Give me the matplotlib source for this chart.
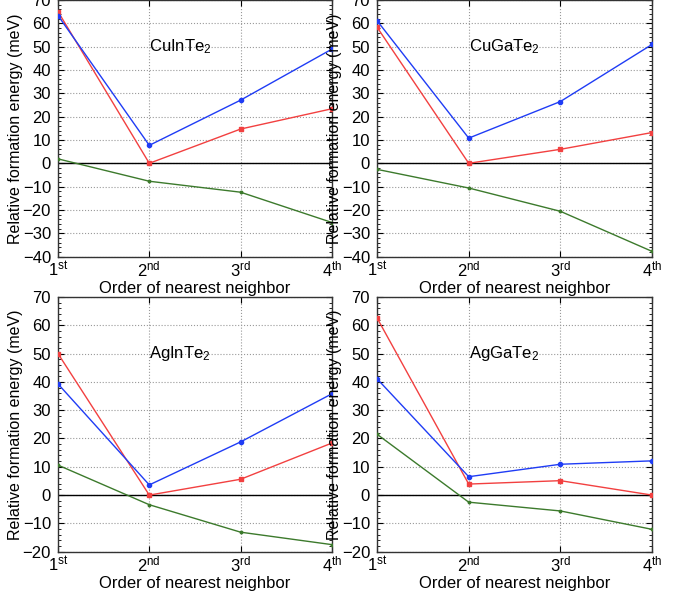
import numpy as np
import matplotlib
matplotlib.use("Agg")
import matplotlib.pyplot as plt
from matplotlib.ticker import MultipleLocator

plt.rcParams['font.family'] = ['Liberation Sans', 'DejaVu Sans']
plt.rcParams['mathtext.fontset'] = 'custom'
plt.rcParams['mathtext.rm'] = 'Liberation Sans'
plt.rcParams['mathtext.it'] = 'Liberation Sans'

order = [1, 2, 3, 4]
order_labels = ["1$^{\\rm st}$", "2$^{\\rm nd}$", "3$^{\\rm rd}$", "4$^{\\rm th}$"]

names = ["CuInTe$_2$", "CuGaTe$_2$", "AgInTe$_2$", "AgGaTe$_2$"]

# blue (circles), red (squares), green (small dots) for each compound
blue = [
    [63.4, 7.7, 27.1, 49.0],
    [61.2, 10.8, 26.5, 51.0],
    [39.3, 3.6, 18.8, 35.8],
    [41.1, 6.5, 10.9, 12.1],
]
red = [
    [65.1, 0.0, 14.7, 23.4],
    [58.4, 0.0, 6.0, 13.2],
    [50.0, 0.0, 5.6, 18.4],
    [62.6, 3.9, 5.1, 0.0],
]
green = [
    [1.9, -7.7, -12.4, -25.4],
    [-2.6, -10.6, -20.6, -37.8],
    [10.6, -3.4, -13.1, -17.5],
    [21.5, -2.5, -5.6, -12.1],
]
ylims = [(-40, 70), (-40, 70), (-20, 70), (-20, 70)]

fig = plt.figure(figsize=(6.86, 5.98), dpi=100)
boxes = [
    [0.0845, 0.571, 0.3994, 0.4288],
    [0.5496, 0.571, 0.4010, 0.4288],
    [0.0845, 0.0774, 0.3994, 0.426],
    [0.5496, 0.0774, 0.4010, 0.426],
]

for i in range(4):
    ax = fig.add_axes(boxes[i])
    ax.grid(True, which='major', color='#999999', linestyle=':', linewidth=0.8)
    ax.axhline(0, color='black', linewidth=1.0, zorder=2)
    ax.plot(order, green[i], color='#3c7a2c', marker='o', markersize=1.8, linewidth=1.0, zorder=3)
    ax.plot(order, red[i], color='#f24040', marker='s', markersize=3, linewidth=1.0, zorder=3)
    ax.plot(order, blue[i], color='#1f3cf5', marker='o', markersize=3, linewidth=1.0, zorder=4)
    ax.set_xlim(1, 4)
    ax.set_ylim(*ylims[i])
    ax.set_xticks(order)
    ax.set_xticklabels(order_labels, fontsize=12)
    ax.yaxis.set_major_locator(MultipleLocator(10))
    ax.yaxis.set_minor_locator(MultipleLocator(2))
    ax.tick_params(axis='both', which='both', direction='in', right=True, top=True, labelsize=12)
    ax.tick_params(axis='y', which='major', length=4, pad=5)
    ax.tick_params(axis='y', which='minor', length=2)
    ax.tick_params(axis='x', which='major', length=4, pad=2)
    for sp in ax.spines.values():
        sp.set_color('#333333')
        sp.set_linewidth(1.0)
    ax.set_xlabel("Order of nearest neighbor", fontsize=12, labelpad=1)
    ax.set_ylabel("Relative formation energy (meV)", fontsize=11.5, labelpad=-0.5)
    ax.text(2, 50, names[i], fontsize=12, ha='left', va='center')

plt.savefig("out.png", dpi=100)
